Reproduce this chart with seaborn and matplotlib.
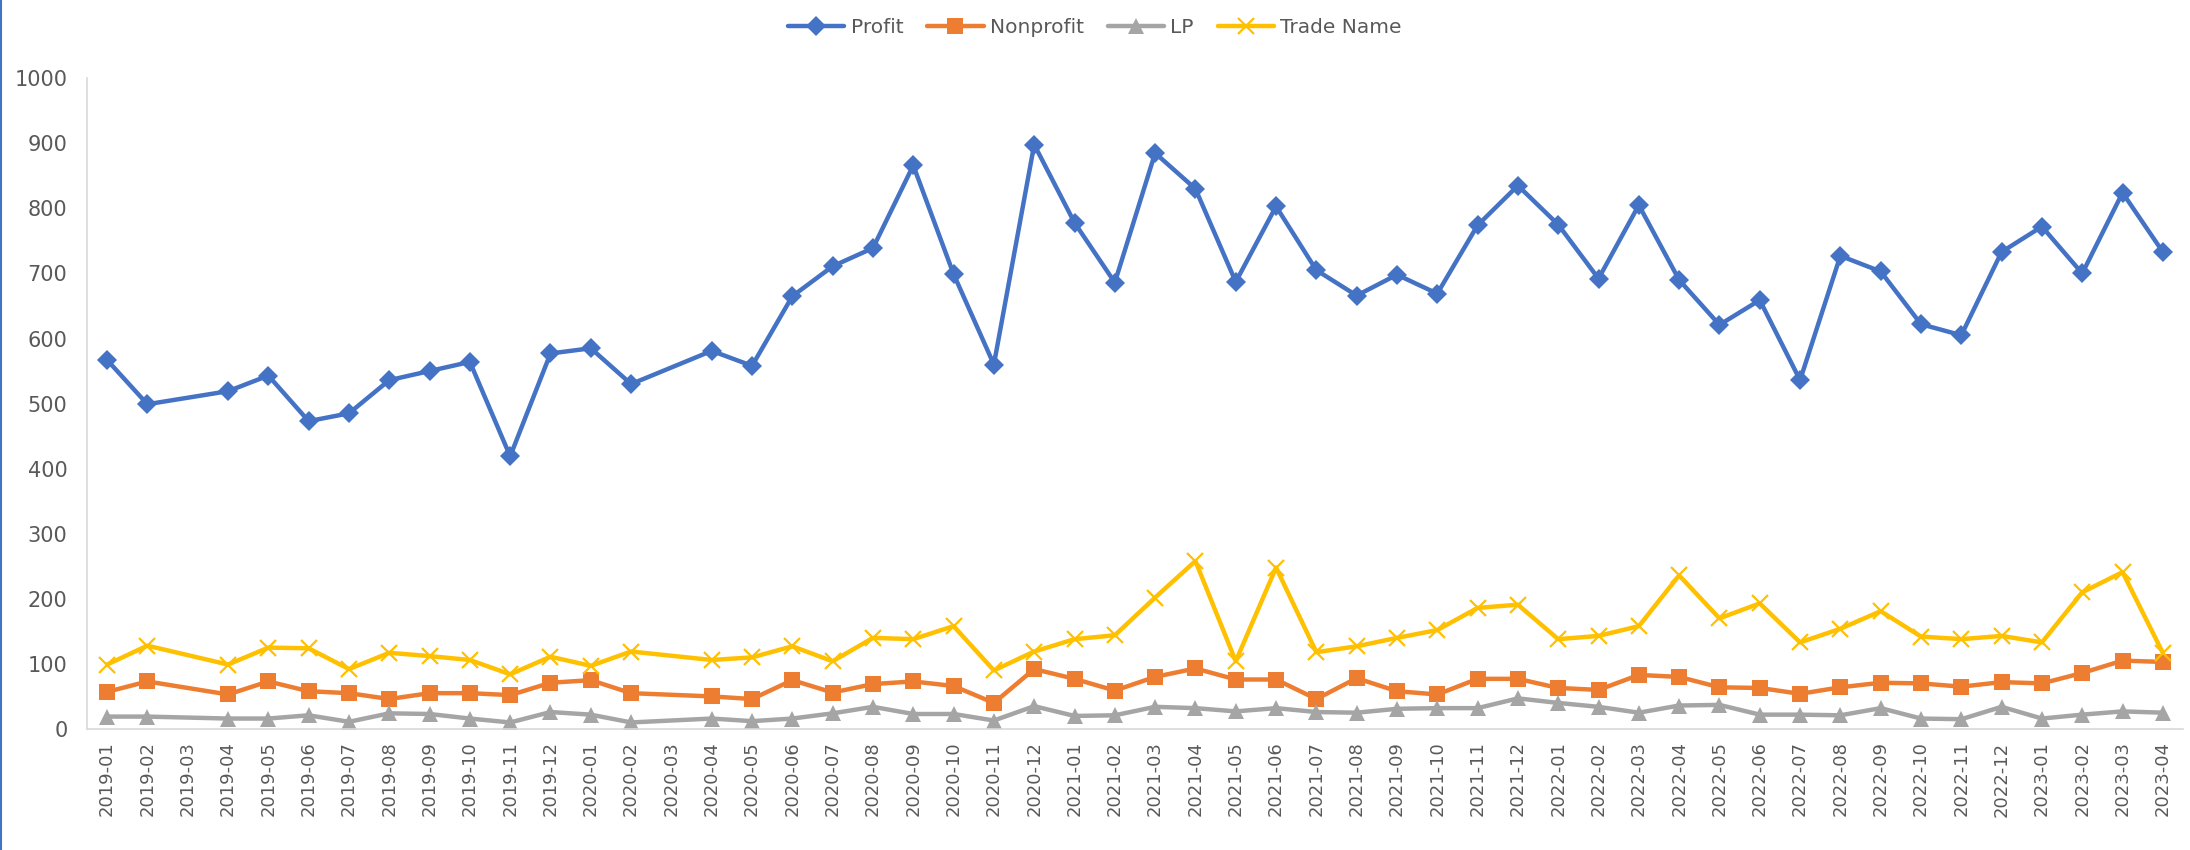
import matplotlib
matplotlib.use("Agg")
import matplotlib.pyplot as plt
from matplotlib.lines import Line2D
import seaborn as sns
import numpy as np
import pandas as pd

# months on the category axis (2019-03 and 2020-03 have no values)
months = [f"{y}-{m:02d}" for y in range(2019, 2024) for m in range(1, 13)][:52]

profit = [567, 499, None, 519, 543, 473, 485, 536, 550, 564, 419, 577,
          585, 530, None, 581, 558, 665, 711, 739, 866, 699, 560, 898,
          778, 686, 885, 830, 687, 803, 705, 666, 698, 669, 774, 835,
          775, 692, 805, 690, 621, 659, 536, 727, 703, 622, 605, 733,
          772, 700, 824, 733]
nonprofit = [57, 73, None, 53, 73, 58, 55, 46, 55, 55, 52, 71,
             75, 55, None, 50, 46, 75, 56, 69, 73, 66, 40, 92,
             77, 59, 80, 93, 76, 76, 46, 78, 58, 53, 77, 77,
             63, 60, 83, 80, 64, 63, 54, 64, 71, 70, 65, 72,
             70, 86, 105, 103]
lp = [19, 19, None, 16, 16, 21, 11, 24, 23, 16, 10, 26,
      22, 10, None, 16, 12, 16, 24, 34, 23, 23, 13, 35,
      20, 21, 34, 32, 27, 32, 26, 25, 31, 32, 32, 47,
      40, 34, 25, 36, 37, 22, 22, 21, 32, 16, 15, 34,
      16, 22, 27, 25]
trade_name = [99, 128, None, 99, 125, 124, 92, 117, 112, 106, 84, 111,
              97, 119, None, 106, 110, 127, 104, 140, 138, 158, 90, 119,
              138, 144, 202, 258, 104, 248, 118, 127, 140, 152, 186, 191,
              138, 143, 158, 236, 170, 193, 133, 154, 181, 142, 138, 143,
              133, 210, 241, 117]

series = {"Profit": profit, "Nonprofit": nonprofit, "LP": lp, "Trade Name": trade_name}
styles = {
    "Profit": dict(color="#4472C4", marker="D", markersize=10.5),
    "Nonprofit": dict(color="#ED7D31", marker="s", markersize=12),
    "LP": dict(color="#A5A5A5", marker="^", markersize=12),
    "Trade Name": dict(color="#FFC000", marker="x", markersize=12, markeredgewidth=1.6),
}

rows = []
for name, vals in series.items():
    for i, v in enumerate(vals):
        if v is not None:
            rows.append({"pos": i, "value": v, "series": name})
df = pd.DataFrame(rows)

sns.set_style("white")
plt.rcParams["font.family"] = ["DejaVu Sans"]

fig = plt.figure(figsize=(21.9, 8.5), dpi=100)
ax = fig.add_axes([0.0397, 0.1424, 0.9571, 0.7656])

for name in series:
    st = styles[name]
    sns.lineplot(data=df[df["series"] == name], x="pos", y="value", ax=ax,
                 color=st["color"], marker=st["marker"], markersize=st["markersize"],
                 markeredgewidth=st.get("markeredgewidth", 0),
                 markeredgecolor=st["color"], linewidth=3.2, label=name)

ax.set_xlim(-0.5, len(months) - 0.5)
ax.set_ylim(0, 1000)
ax.set_yticks(np.arange(0, 1001, 100))
ax.set_xticks(range(len(months)))
ax.set_xticklabels(months, rotation=90, fontsize=13, color="#595959")
ax.set_xticks(np.arange(-0.5, len(months), 1), minor=True)
ax.tick_params(axis="x", which="major", length=0, pad=9)
ax.tick_params(axis="x", which="minor", length=7, color="#D9D9D9", width=1.2)
ax.tick_params(axis="y", length=0, labelsize=15, labelcolor="#595959", pad=14)
ax.set_xlabel("")
ax.set_ylabel("")
for s in ["top", "right"]:
    ax.spines[s].set_visible(False)
for s in ["left", "bottom"]:
    ax.spines[s].set_color("#D9D9D9")
    ax.spines[s].set_linewidth(1.2)

handles, labels = ax.get_legend_handles_labels()
ax.legend_.remove()
fig.legend(handles, labels, loc="upper center", bbox_to_anchor=(0.5, 1.0), ncol=4,
           frameon=False, fontsize=14.5, labelcolor="#595959", handlelength=2.8,
           columnspacing=1.2, handletextpad=0.3)

fig.add_artist(Line2D([0.0006, 0.0006], [0, 1], color="#4472C4", lw=1.5, transform=fig.transFigure))

fig.savefig("out.png", dpi=100)
